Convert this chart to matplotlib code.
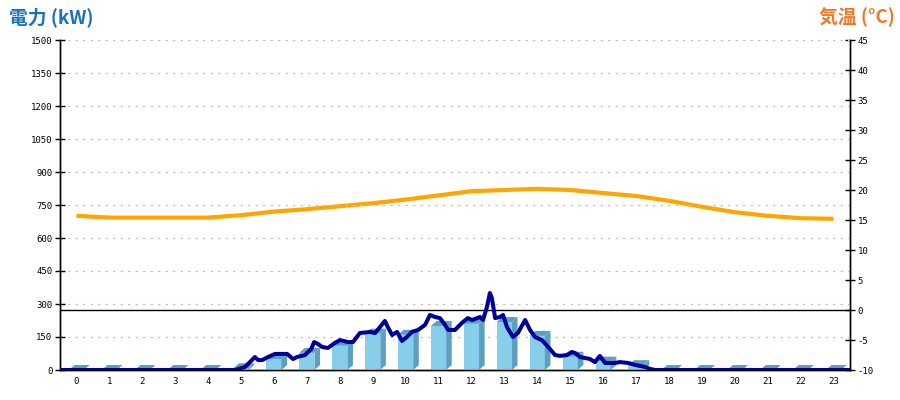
import matplotlib
matplotlib.use("Agg")
import matplotlib.pyplot as plt

# ---- data ----
hours = list(range(24))
hour_labels = [str(h) for h in hours]

# hourly power (kW), bars
bar_kw = [0, 0, 0, 0, 0, 8, 50, 78, 110, 165, 160, 200, 210, 218, 155, 60, 38, 22,
          0, 0, 0, 0, 0, 0]

# hourly temperature (deg C)
temp_c = [15.7, 15.4, 15.4, 15.4, 15.4, 15.8, 16.4, 16.8, 17.3, 17.8, 18.4, 19.1,
          19.8, 20.0, 20.2, 20.0, 19.5, 19.0, 18.2, 17.2, 16.3, 15.7, 15.3, 15.2]

# fine-resolution power (time of day in hours, kW)
power_time = [0.00, 5.32, 5.62, 5.77, 5.92, 6.02, 6.14, 6.32, 6.53, 6.90, 7.08, 7.20,
              7.44, 7.63, 7.72, 7.84, 7.96, 8.14, 8.35, 8.51, 8.75, 8.90, 9.11, 9.42,
              9.57, 9.72, 9.87, 9.96, 10.09, 10.24, 10.39, 10.54, 10.69, 10.88, 11.09,
              11.24, 11.39, 11.54, 11.70, 11.79, 12.00, 12.21, 12.39, 12.52, 12.67,
              12.76, 12.85, 12.97, 13.06, 13.12, 13.22, 13.37, 13.46, 13.58, 13.76,
              13.91, 14.13, 14.28, 14.43, 14.64, 14.83, 15.04, 15.19, 15.40, 15.55,
              15.65, 15.80, 16.10, 16.25, 16.40, 16.56, 16.86, 17.01, 17.26, 17.47,
              17.77, 17.92, 18.08, 24.00]
power_kw = [0, 0, 14, 36, 59, 45, 45, 59, 73, 73, 50, 59,
            68, 95, 127, 118, 105, 100, 123, 136, 127, 127, 168, 173,
            168, 195, 223, 195, 159, 173, 132, 150, 173, 182, 205,
            250, 241, 236, 205, 182, 182, 214, 236, 227, 236,
            241, 227, 286, 350, 327, 236, 241, 250, 195, 150,
            168, 227, 182, 150, 136, 105, 68, 64, 68, 82,
            77, 59, 50, 36, 64, 32, 32, 36, 32, 23,
            14, 5, 0, 0]

left_ticks = list(range(0, 1501, 150))
right_ticks = list(range(-10, 46, 5))

# ---- style ----
FRONT = "#87CEEB"
SIDE = "#5BA1BF"
NAVY = "#000099"
ORANGE = "#FFA500"
BLUE_T = "#1A72BA"
ORANGE_T = "#EE7A2A"
TICKFONT = dict(family="DejaVu Sans Mono", size=6.5)

fig = plt.figure(figsize=(9, 4), dpi=100)
ax = fig.add_axes([60/900, 30/400, 790/900, 330/400])
ax2 = ax.twinx()

ax.set_xlim(-0.5, 23.5)
ax.set_ylim(0, 1500)
ax2.set_ylim(-10, 45)

# gridlines
for t in left_ticks[1:]:
    ax.axhline(t, color="#c4c4c4", lw=0.9, ls=(0, (2, 4)), zorder=0)

# 3D-ish bars
w = 0.46
dx = 0.17
dy = 22.7
ax.bar(hours, bar_kw, width=w, color=FRONT, zorder=2, linewidth=0)
for i, v in zip(hours, bar_kw):
    x1 = i + w / 2
    x0 = i - w / 2
    ax.fill([x1, x1 + dx, x1 + dx, x1], [0, dy, v + dy, v], color=SIDE, lw=0, zorder=2)
    ax.fill([x0, x0 + dx, x1 + dx, x1], [v, v + dy, v + dy, v], color=SIDE, lw=0, zorder=2)

# power line (time-of-day -> category coords)
ax.plot([t - 0.5 for t in power_time], power_kw, color=NAVY, lw=2.9, zorder=5,
        solid_joinstyle="round", solid_capstyle="butt")

# temperature
ax2.axhline(0, color="black", lw=1, zorder=1)
ax2.plot(hours, temp_c, color=ORANGE, lw=3, zorder=4, solid_capstyle="butt")

ax.set_zorder(ax2.get_zorder() + 1)
ax.patch.set_visible(False)

# axes styling
for a in (ax, ax2):
    a.spines["top"].set_visible(False)
    for s in ("left", "right", "bottom"):
        a.spines[s].set_linewidth(1)
        a.spines[s].set_color("black")

ax.set_yticks(left_ticks)
ax.set_yticklabels([str(t) for t in left_ticks], fontdict=TICKFONT)
ax.tick_params(axis="y", direction="inout", length=7, width=1, pad=2)
ax.set_xticks(hours)
ax.set_xticklabels(hour_labels, fontdict=TICKFONT)
ax.tick_params(axis="x", length=0, pad=5)

ax2.set_yticks(right_ticks)
ax2.set_yticklabels([str(t) for t in right_ticks], fontdict=TICKFONT)
ax2.tick_params(axis="y", direction="inout", length=7, width=1, pad=2)

fig.text(9/900, 1 - 17/400, "電力 (kW)", color=BLUE_T, fontsize=13.5, fontweight="bold",
         family=["Noto Sans CJK JP", "DejaVu Sans"], va="center", ha="left")
fig.text(895/900, 1 - 17/400, "気温 (°C)", color=ORANGE_T, fontsize=13.5, fontweight="bold",
         family=["Noto Sans CJK JP", "DejaVu Sans"], va="center", ha="right")

fig.savefig("out.png", dpi=100)
